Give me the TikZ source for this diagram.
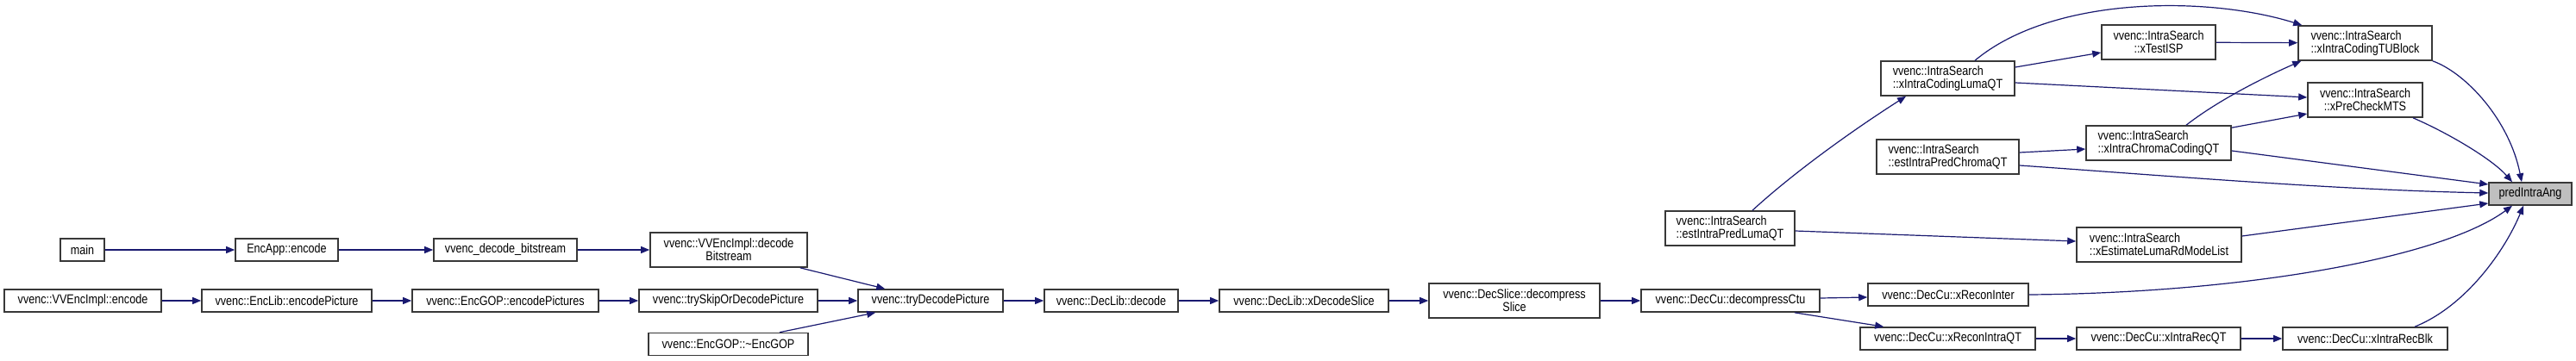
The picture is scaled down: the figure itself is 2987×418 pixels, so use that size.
\documentclass[tikz,border=0pt]{standalone}
\usepackage{fontspec}
\setmainfont[FakeStretch=0.84]{Liberation Sans}
\usetikzlibrary{arrows.meta,calc}
\definecolor{edgeblue}{HTML}{191970}
\definecolor{rootgray}{HTML}{BFBFBF}
\definecolor{boxline}{HTML}{383838}
\tikzset{
  fnbox/.style={draw=boxline, line width=1.6pt, fill=white, inner sep=0pt, font=\fontsize{15}{15}\selectfont, text=black},
  rootbox/.style={fnbox, fill=rootgray},
  callarrow/.style={draw=edgeblue, line width=1.2pt, -{Triangle[length=10pt,width=8pt]}}
}
\begin{document}
\begin{tikzpicture}[x=1pt,y=-1pt]
\fill[white] (0,0) rectangle (2987,418);
\useasboundingbox (0,0) rectangle (2987,418);
% nodes
\node[fnbox, minimum width=51pt, minimum height=26pt] (main) at (95.5,290) {main};
\node[fnbox, minimum width=119pt, minimum height=26pt] (encapp) at (332.5,290) {EncApp::encode};
\node[fnbox, minimum width=166pt, minimum height=26pt] (decbits) at (586,290) {vvenc\_decode\_bitstream};
\node[fnbox, minimum width=182pt, minimum height=40pt, align=center] (decodebs) at (845,290) {vvenc::VVEncImpl::decode\\Bitstream};
\node[fnbox, minimum width=182pt, minimum height=26pt] (implenc) at (96,349) {vvenc::VVEncImpl::encode};
\node[fnbox, minimum width=197pt, minimum height=26pt] (enclib) at (332.5,349) {vvenc::EncLib::encodePicture};
\node[fnbox, minimum width=216pt, minimum height=26pt] (encgop) at (586,349) {vvenc::EncGOP::encodePictures};
\node[fnbox, minimum width=207pt, minimum height=26pt] (tryskip) at (844.5,349) {vvenc::trySkipOrDecodePicture};
\node[fnbox, minimum width=185pt, minimum height=26pt] (gopdtor) at (844.5,399.5) {vvenc::EncGOP::\textasciitilde EncGOP};
\node[fnbox, minimum width=168pt, minimum height=26pt] (trydec) at (1079,349) {vvenc::tryDecodePicture};
\node[fnbox, minimum width=155pt, minimum height=26pt] (declib) at (1288.5,349) {vvenc::DecLib::decode};
\node[fnbox, minimum width=196pt, minimum height=26pt] (xdecslice) at (1512,349) {vvenc::DecLib::xDecodeSlice};
\node[fnbox, minimum width=198pt, minimum height=40pt, align=center] (decslice) at (1756,349) {vvenc::DecSlice::decompress\\Slice};
\node[fnbox, minimum width=207pt, minimum height=26pt] (decctu) at (2006.5,349) {vvenc::DecCu::decompressCtu};
\node[fnbox, minimum width=150pt, minimum height=40pt, align=left] (estluma) at (2006,265) {vvenc::IntraSearch\\::estIntraPredLumaQT};
\node[fnbox, minimum width=186pt, minimum height=26pt] (reconinter) at (2259,342) {vvenc::DecCu::xReconInter};
\node[fnbox, minimum width=203pt, minimum height=26pt] (reconintra) at (2258.5,393) {vvenc::DecCu::xReconIntraQT};
\node[fnbox, minimum width=155pt, minimum height=40pt, align=left] (codluma) at (2258.5,91) {vvenc::IntraSearch\\::xIntraCodingLumaQT};
\node[fnbox, minimum width=165pt, minimum height=40pt, align=left] (estchroma) at (2258.5,182) {vvenc::IntraSearch\\::estIntraPredChromaQT};
\node[fnbox, minimum width=132pt, minimum height=40pt, align=center] (testisp) at (2503,49) {vvenc::IntraSearch\\::xTestISP};
\node[fnbox, minimum width=155pt, minimum height=40pt, align=left] (tublock) at (2742.5,50) {vvenc::IntraSearch\\::xIntraCodingTUBlock};
\node[fnbox, minimum width=133pt, minimum height=40pt, align=center] (premts) at (2742.5,116) {vvenc::IntraSearch\\::xPreCheckMTS};
\node[fnbox, minimum width=168pt, minimum height=40pt, align=left] (codchroma) at (2503,166) {vvenc::IntraSearch\\::xIntraChromaCodingQT};
\node[fnbox, minimum width=191pt, minimum height=40pt, align=left] (estimate) at (2503.5,284) {vvenc::IntraSearch\\::xEstimateLumaRdModeList};
\node[fnbox, minimum width=190pt, minimum height=26pt] (recqt) at (2503,393) {vvenc::DecCu::xIntraRecQT};
\node[fnbox, minimum width=191pt, minimum height=26pt] (recblk) at (2742.5,393) {vvenc::DecCu::xIntraRecBlk};
\node[rootbox, minimum width=96pt, minimum height=26pt] (pred) at (2934,225) {predIntraAng};
% edges
\draw[callarrow] (main) -- (encapp);
\draw[callarrow] (encapp) -- (decbits);
\draw[callarrow] (decbits) -- (decodebs);
\draw[callarrow] (implenc) -- (enclib);
\draw[callarrow] (enclib) -- (encgop);
\draw[callarrow] (encgop) -- (tryskip);
\draw[callarrow] ($(decodebs.south east)+(-9,0)$) -- ($(trydec.north west)+(32,0)$);
\draw[callarrow] (tryskip) -- (trydec);
\draw[callarrow] ($(gopdtor.north)+(59.5,0)$) -- ($(trydec.south west)+(21,0)$);
\draw[callarrow] (trydec) -- (declib);
\draw[callarrow] (declib) -- (xdecslice);
\draw[callarrow] (xdecslice) -- (decslice);
\draw[callarrow] (decslice) -- (decctu);
\draw[callarrow] ($(decctu.east)+(0,-3)$) -- ($(reconinter.west)+(0,3)$);
\draw[callarrow] ($(decctu.south east)+(-30,0)$) -- ($(reconintra.north west)+(28,0)$);
\draw[callarrow] (reconintra) -- (recqt);
\draw[callarrow] (recqt) -- (recblk);
\draw[callarrow] ($(recblk.north)+(57.5,0)$) .. controls (2860,355) and (2905,290) .. ($(pred.south)+(-8,0)$);
\draw[callarrow] (reconinter.east) .. controls (2600,340) and (2830,300) .. ($(pred.south)+(-21,0)$);
\draw[callarrow] ($(estluma.north)+(26,0)$) .. controls (2080,200) and (2150,150) .. ($(codluma.south)+(-48.5,0)$);
\draw[callarrow] ($(estluma.east)+(0,3)$) -- ($(estimate.west)+(0,-4)$);
\draw[callarrow] ($(estchroma.east)+(0,-5)$) -- ($(codchroma.west)+(0,7)$);
\draw[callarrow] ($(estchroma.east)+(0,10)$) .. controls (2500,203) and (2700,220) .. ($(pred.west)+(0,-1)$);
\draw[callarrow] ($(codluma.east)+(0,-13)$) -- ($(testisp.west)+(0,12)$);
\draw[callarrow] ($(codluma.north)+(31.5,0)$) .. controls (2380,-5) and (2560,-5) .. ($(tublock.north west)+(5,0)$);
\draw[callarrow] ($(codluma.east)+(0,5)$) -- ($(premts.west)+(0,-3)$);
\draw[callarrow] (testisp) -- (tublock);
\draw[callarrow] ($(codchroma.north)+(32,0)$) .. controls (2570,118) and (2620,92) .. ($(tublock.south west)+(4,0)$);
\draw[callarrow] ($(codchroma.north east)+(0,3)$) -- ($(premts.west)+(0,16)$);
\draw[callarrow] ($(codchroma.east)+(0,9)$) -- ($(pred.west)+(0,-11)$);
\draw[callarrow] (tublock.south east) .. controls (2860,85) and (2910,140) .. ($(pred.north)+(-10,0)$);
\draw[callarrow] ($(premts.south)+(55.5,0)$) .. controls (2840,155) and (2890,185) .. ($(pred.north)+(-21,0)$);
\draw[callarrow] ($(estimate.east)+(0,-10)$) -- ($(pred.west)+(0,11)$);
\end{tikzpicture}
\end{document}
